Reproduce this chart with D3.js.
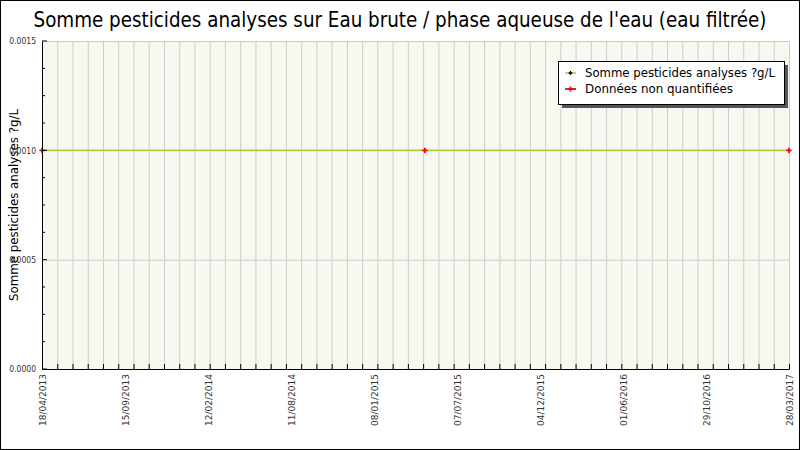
<!DOCTYPE html>
<html>
<head>
<meta charset="utf-8">
<script src="https://cdn.jsdelivr.net/npm/d3@7"></script>
<style>
  body { margin: 0; background: #fff; }
  svg { display: block; font-family: "DejaVu Sans", sans-serif; }
</style>
</head>
<body>
<svg id="chart" width="800" height="450"></svg>
<script>
// Data
const seriesDates = ["2013-04-18", "2015-04-26", "2017-03-28"];
const seriesValues = [0.001, 0.001, 0.001];
const nonQuantDates = ["2013-04-18", "2015-04-26", "2017-03-28"];
const nonQuantValues = [0.001, 0.001, 0.001];
const xTickLabels = ["18/04/2013", "15/09/2013", "12/02/2014", "11/08/2014", "08/01/2015",
  "07/07/2015", "04/12/2015", "01/06/2016", "29/10/2016", "28/03/2017"];
const yTicks = [0, 0.0005, 0.001, 0.0015];
const xMinorCount = 49;

const title = "Somme pesticides analyses sur Eau brute / phase aqueuse de l'eau (eau filtrée)";
const ylabel = "Somme pesticides analyses ?g/L";
const legendLabels = ["Somme pesticides analyses ?g/L", "Données non quantifiées"];

const W = 800, H = 450;
const margin = { top: 41, right: 11, bottom: 81, left: 42 };
const width = W - margin.left - margin.right;
const height = H - margin.top - margin.bottom;

const svgRoot = d3.select("#chart");

// outer frame
svgRoot.append("rect")
  .attr("x", 0.5).attr("y", 0.5)
  .attr("width", W - 1).attr("height", H - 1)
  .attr("fill", "#fff").attr("stroke", "#000");

const svg = svgRoot.append("g")
  .attr("transform", `translate(${margin.left},${margin.top})`);

const parse = d3.timeParse("%Y-%m-%d");
const x = d3.scaleTime()
  .domain([parse(seriesDates[0]), parse(seriesDates[seriesDates.length - 1])])
  .range([0, width]);
const xMinor = d3.scaleLinear().domain([0, xMinorCount]).range([0, width]);
const xLab = d3.scalePoint().domain(xTickLabels).range([0, width]);
const y = d3.scaleLinear().domain([0, 0.0015]).range([height, 0]);

// plot background
svg.append("rect")
  .attr("width", width).attr("height", height)
  .attr("fill", "#f8f8f0");

// vertical grid
svg.append("g")
  .attr("transform", `translate(0,${height})`)
  .call(d3.axisBottom(xMinor).tickValues(d3.range(1, xMinorCount + 1))
    .tickSize(-height).tickFormat(""))
  .call(g => g.select(".domain").remove())
  .selectAll("line").attr("stroke", "#cccccc");

// horizontal grid
svg.append("g")
  .call(d3.axisLeft(y).tickValues(yTicks.slice(1)).tickSize(-width).tickFormat(""))
  .call(g => g.select(".domain").remove())
  .selectAll("line").attr("stroke", "#cccccc");

// series line
const pts = seriesDates.map((d, i) => ({ date: parse(d), value: seriesValues[i] }));
svg.append("path")
  .datum(pts)
  .attr("fill", "none")
  .attr("stroke", "#a8cc44")
  .attr("stroke-width", 1.5)
  .attr("d", d3.line().x(d => x(d.date)).y(d => y(d.value)));

// non quantified points
const nq = nonQuantDates.map((d, i) => ({ date: parse(d), value: nonQuantValues[i] }));
svg.selectAll(".nq")
  .data(nq)
  .enter().append("path")
  .attr("class", "nq")
  .attr("transform", d => `translate(${x(d.date)},${y(d.value)})`)
  .attr("d", d3.symbol().type(d3.symbolCross).size(15))
  .attr("fill", "#ff0000");

// y axis
const yAxis = svg.append("g")
  .call(d3.axisLeft(y).tickValues(yTicks).tickSize(0).tickPadding(6).tickFormat(d3.format(".4f")));
yAxis.select(".domain").attr("stroke", "#000");
yAxis.selectAll("text").attr("font-size", 8.5).attr("fill", "#333")
  .attr("font-family", "DejaVu Sans Condensed, DejaVu Sans, sans-serif");
// y ticks inside
svg.append("g")
  .selectAll("line")
  .data(d3.range(0, 0.0015 + 1e-9, 0.000125))
  .enter().append("line")
  .attr("x1", 0)
  .attr("x2", (d, i) => i % 4 === 0 ? 5 : 3)
  .attr("y1", d => y(d)).attr("y2", d => y(d))
  .attr("stroke", "#000");

// x axis
const xAxis = svg.append("g")
  .attr("transform", `translate(0,${height})`)
  .call(d3.axisBottom(xMinor).tickValues(d3.range(0, xMinorCount + 1)).tickSize(-5).tickFormat(""));
xAxis.select(".domain").attr("stroke", "#000");
xAxis.selectAll("line").attr("stroke", "#000");

svg.append("g")
  .attr("transform", `translate(0,${height})`)
  .selectAll("text")
  .data(xTickLabels)
  .enter().append("text")
  .attr("transform", d => `translate(${xLab(d) + 3.5},5) rotate(-90)`)
  .attr("text-anchor", "end")
  .attr("font-size", 9.5)
  .attr("fill", "#333")
  .attr("textLength", 52)
  .attr("lengthAdjust", "spacingAndGlyphs")
  .text(d => d);

// title
svgRoot.append("text")
  .attr("x", W / 2)
  .attr("y", 27)
  .attr("text-anchor", "middle")
  .attr("font-size", 21)
  .attr("font-family", "DejaVu Sans Condensed, DejaVu Sans, sans-serif")
  .attr("textLength", 733)
  .attr("lengthAdjust", "spacingAndGlyphs")
  .attr("fill", "#000")
  .text(title);

// y label
svgRoot.append("text")
  .attr("transform", `translate(18,${margin.top + height / 2}) rotate(-90)`)
  .attr("text-anchor", "middle")
  .attr("font-size", 13)
  .attr("font-family", "DejaVu Sans Condensed, DejaVu Sans, sans-serif")
  .attr("textLength", 192)
  .attr("lengthAdjust", "spacingAndGlyphs")
  .text(ylabel);

// legend
const lg = svgRoot.append("g").attr("transform", "translate(558,61)");
lg.append("rect").attr("x", 4).attr("y", 4).attr("width", 226).attr("height", 43).attr("fill", "#555");
lg.append("rect").attr("x", 0.5).attr("y", 0.5).attr("width", 226).attr("height", 43)
  .attr("fill", "#fff").attr("stroke", "#000");
const legendColors = ["#a8cc44", "#880000"];
const legendMarks = ["#000", "#ff0000"];
const item = lg.selectAll(".item")
  .data(legendLabels)
  .enter().append("g")
  .attr("transform", (d, i) => `translate(0,${12 + i * 16})`);
item.append("line")
  .attr("x1", 7).attr("x2", 18).attr("y1", 0).attr("y2", 0)
  .attr("stroke", (d, i) => legendColors[i]).attr("stroke-width", 1.5);
item.append("path")
  .attr("transform", "translate(12.5,0)")
  .attr("d", (d, i) => d3.symbol().type(d3.symbolCross).size(i === 0 ? 8 : 15)())
  .attr("fill", (d, i) => legendMarks[i]);
item.append("text")
  .attr("x", 27).attr("y", 0).attr("dy", "0.35em")
  .attr("font-size", 12)
  .attr("font-family", "DejaVu Sans Condensed, DejaVu Sans, sans-serif")
  .attr("textLength", (d, i) => i === 0 ? 190 : 148)
  .attr("lengthAdjust", "spacingAndGlyphs")
  .text(d => d);
</script>
</body>
</html>
